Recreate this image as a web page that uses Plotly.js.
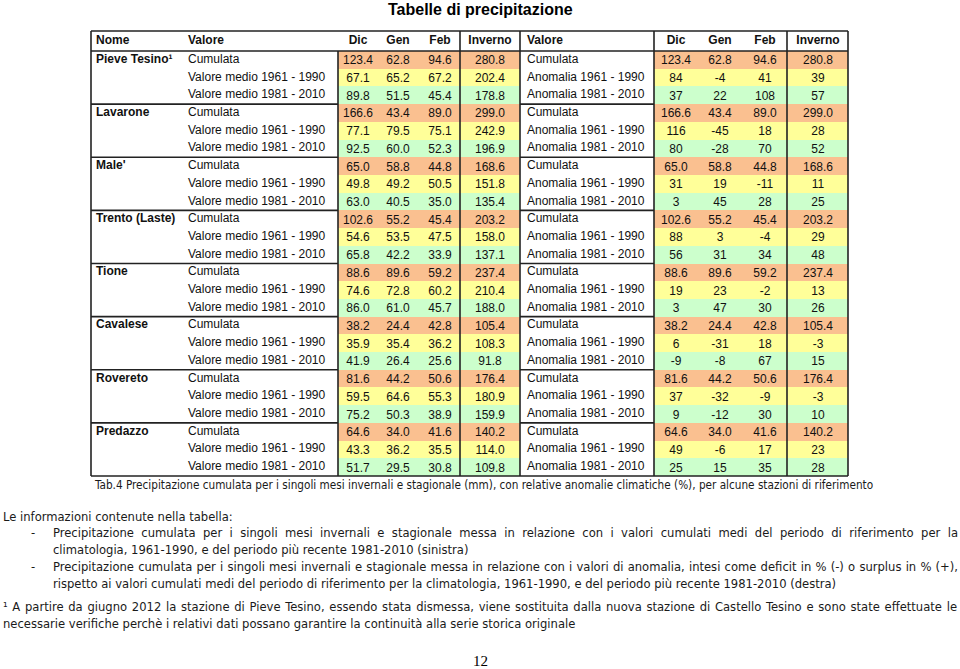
<!DOCTYPE html>
<html>
<head>
<meta charset="utf-8">
<script src="https://cdn.plot.ly/plotly-3.0.1.min.js"></script>
<style>body{margin:0;background:#fff}</style>
</head>
<body>
<div id="chart" style="width:960px;height:669px"></div>
<script>
// stations
var stations = ["Pieve Tesino\u00B9", "Lavarone", "Male'", "Trento (Laste)", "Tione", "Cavalese", "Rovereto", "Predazzo"];
var months = ["Dic", "Gen", "Feb", "Inverno"];
var labelsLeft = ["Cumulata", "Valore medio 1961 - 1990", "Valore medio 1981 - 2010"];
var labelsRight = ["Cumulata", "Anomalia 1961 - 1990", "Anomalia 1981 - 2010"];

// cumulated precipitation (mm)
var cumDic = [123.4, 166.6, 65.0, 102.6, 88.6, 38.2, 81.6, 64.6];
var cumGen = [62.8, 43.4, 58.8, 55.2, 89.6, 24.4, 44.2, 34.0];
var cumFeb = [94.6, 89.0, 44.8, 45.4, 59.2, 42.8, 50.6, 41.6];
var cumInv = [280.8, 299.0, 168.6, 203.2, 237.4, 105.4, 176.4, 140.2];

// mean 1961-1990 (mm)
var m6190Dic = [67.1, 77.1, 49.8, 54.6, 74.6, 35.9, 59.5, 43.3];
var m6190Gen = [65.2, 79.5, 49.2, 53.5, 72.8, 35.4, 64.6, 36.2];
var m6190Feb = [67.2, 75.1, 50.5, 47.5, 60.2, 36.2, 55.3, 35.5];
var m6190Inv = [202.4, 242.9, 151.8, 158.0, 210.4, 108.3, 180.9, 114.0];

// mean 1981-2010 (mm)
var m8110Dic = [89.8, 92.5, 63.0, 65.8, 86.0, 41.9, 75.2, 51.7];
var m8110Gen = [51.5, 60.0, 40.5, 42.2, 61.0, 26.4, 50.3, 29.5];
var m8110Feb = [45.4, 52.3, 35.0, 33.9, 45.7, 25.6, 38.9, 30.8];
var m8110Inv = [178.8, 196.9, 135.4, 137.1, 188.0, 91.8, 159.9, 109.8];

// anomalies (%)
var a6190Dic = [84, 116, 31, 88, 19, 6, 37, 49];
var a6190Gen = [-4, -45, 19, 3, 23, -31, -32, -6];
var a6190Feb = [41, 18, -11, -4, -2, 18, -9, 17];
var a6190Inv = [39, 28, 11, 29, 13, -3, -3, 23];
var a8110Dic = [37, 80, 3, 56, 3, -9, 9, 25];
var a8110Gen = [22, -28, 45, 31, 47, -8, -12, 15];
var a8110Feb = [108, 70, 28, 34, 30, 67, 30, 35];
var a8110Inv = [57, 52, 25, 48, 26, 15, 10, 28];

var rowColors = ["#FAC090", "#FFFF99", "#CCFFCC"];

var captionText = "Tab.4 Precipitazione cumulata per i singoli mesi invernali e stagionale (mm), con relative anomalie climatiche (%), per alcune stazioni di riferimento";
var bodyLines = [
  "Precipitazione cumulata per i singoli mesi invernali e stagionale messa in relazione con i valori cumulati medi del periodo di riferimento per la",
  "climatologia, 1961-1990, e del periodo più recente 1981-2010 (sinistra)",
  "Precipitazione cumulata per i singoli mesi invernali e stagionale messa in relazione con i valori di anomalia, intesi come deficit in % (-) o surplus in % (+),",
  "rispetto ai valori cumulati medi del periodo di riferimento per la climatologia, 1961-1990, e del periodo più recente 1981-2010 (destra)"
];
var footLines = [
  "\u00B9 A partire da giugno 2012 la stazione di Pieve Tesino, essendo stata dismessa, viene sostituita dalla nuova stazione di Castello Tesino e sono state effettuate le",
  "necessarie verifiche perchè i relativi dati possano garantire la continuità alla serie storica originale"
];

// geometry (page pixels)
var tblL = 91, tblR = 848, tblT = 31, hdrB = 51, tblB = 476;
var nRows = stations.length * 3;
var rowH = (tblB - hdrB) / nRows;
var leftCols = [358, 398, 440, 490];
var rightCols = [676, 720, 765, 818];
var leftEdges = [338, 378, 419, 460, 520];
var rightEdges = [654, 698, 742, 787, tblR];
var nomeX = 96, valX = 188, val2X = 527;

function rowY(i) { return hdrB + rowH * (i + 0.5); }
function f1(v) { return v.toFixed(1); }

var leftRows = [], rightRows = [], levels = [], yEdges = [hdrB];
stations.forEach(function(s, k) {
  var cum = [cumDic[k], cumGen[k], cumFeb[k], cumInv[k]].map(f1);
  leftRows.push(cum);
  leftRows.push([m6190Dic[k], m6190Gen[k], m6190Feb[k], m6190Inv[k]].map(f1));
  leftRows.push([m8110Dic[k], m8110Gen[k], m8110Feb[k], m8110Inv[k]].map(f1));
  rightRows.push(cum);
  rightRows.push([a6190Dic[k], a6190Gen[k], a6190Feb[k], a6190Inv[k]].map(String));
  rightRows.push([a8110Dic[k], a8110Gen[k], a8110Feb[k], a8110Inv[k]].map(String));
});
for (var i = 0; i < nRows; i++) {
  levels.push([0, 1, 2, 3].map(function() { return i % 3; }));
  yEdges.push(hdrB + rowH * (i + 1));
}

var font = "Liberation Sans, Arial, sans-serif";

// the notes below the table use a narrow face: pick one that is installed
// and size it so a reference line gets its width
var ctx = document.createElement("canvas").getContext("2d");
function textW(fam, size, s) { ctx.font = size + "px " + fam; return ctx.measureText(s).width; }
function hasFont(name) {
  var s = "abcdefghijklmnopqrstuvwxyz0123456789";
  return textW("monospace", 20, s) !== textW('"' + name + '", monospace', 20, s);
}
var narrowFam = hasFont("Liberation Sans Narrow") ? "Liberation Sans Narrow" :
  (hasFont("DejaVu Sans Condensed") ? "DejaVu Sans Condensed" : "Liberation Sans");
var narrowQ = '"' + narrowFam + '"';
var bodySize = 20 * 416 / textW(narrowQ, 20, bodyLines[1]);
var capSize = 20 * 779 / textW(narrowQ, 20, captionText);
var notesFam = narrowFam + ", Liberation Sans, sans-serif";

var cs = [[0, rowColors[0]], [0.333, rowColors[0]], [0.334, rowColors[1]], [0.666, rowColors[1]], [0.667, rowColors[2]], [1, rowColors[2]]];

function cellBg(edges) {
  return {type: "heatmap", x: edges, y: yEdges, z: levels, zmin: 0, zmax: 2,
    colorscale: cs, showscale: false, hoverinfo: "skip"};
}

function dataText(rows, cols) {
  var x = [], y = [], t = [];
  rows.forEach(function(r, i) {
    r.forEach(function(v, c) { x.push(cols[c]); y.push(rowY(i) + 1.5); t.push(v); });
  });
  return {type: "scatter", mode: "text", x: x, y: y, text: t, textposition: "middle center",
    textfont: {family: font, size: 12, color: "#111"}, hoverinfo: "skip"};
}

function labelText(xPos, labels) {
  var x = [], y = [], t = [];
  for (var i = 0; i < nRows; i++) { x.push(xPos); y.push(rowY(i)); t.push(labels[i % 3]); }
  return {type: "scatter", mode: "text", x: x, y: y, text: t, textposition: "middle right",
    textfont: {family: font, size: 12, color: "#111"}, hoverinfo: "skip"};
}

var hdrX = [nomeX, valX].concat(leftCols, [val2X], rightCols);
var hdrT = ["Nome", "Valore"].concat(months, ["Valore"], months).map(function(s) { return "<b>" + s + "</b>"; });
var hdrP = hdrX.map(function(x) { return (x === nomeX || x === valX || x === val2X) ? "middle right" : "middle center"; });

var data = [
  cellBg(leftEdges),
  cellBg(rightEdges),
  dataText(leftRows, leftCols),
  dataText(rightRows, rightCols),
  labelText(valX, labelsLeft),
  labelText(val2X, labelsRight),
  {type: "scatter", mode: "text", x: hdrX, y: hdrX.map(function() { return (tblT + hdrB) / 2; }),
    text: hdrT, textposition: hdrP, textfont: {family: font, size: 12, color: "#111"}, hoverinfo: "skip"},
  {type: "scatter", mode: "text", x: stations.map(function() { return nomeX; }),
    y: stations.map(function(s, k) { return rowY(3 * k); }),
    text: stations.map(function(s) { return "<b>" + s + "</b>"; }), textposition: "middle right",
    textfont: {family: font, size: 12, color: "#111"}, hoverinfo: "skip"}
];

// table rules
var shapes = [];
function hline(y, x0, x1) { shapes.push({type: "line", x0: x0, x1: x1, y0: y, y1: y, line: {color: "#222", width: 1.6}}); }
function vline(x, y0, y1) { shapes.push({type: "line", x0: x, x1: x, y0: y0, y1: y1, line: {color: "#222", width: 1.6}}); }
hline(tblT, tblL, tblR);
hline(hdrB, tblL, tblR);
hline(tblB, tblL, tblR);
for (var k = 1; k < stations.length; k++) {
  var yy = hdrB + 3 * k * rowH;
  hline(yy, tblL, leftEdges[0]);
  hline(yy, leftEdges[4], rightEdges[0]);
}
vline(tblL, tblT, tblB);
vline(leftEdges[0], hdrB, tblB);
vline(leftEdges[3], tblT, tblB);
vline(leftEdges[4], tblT, tblB);
vline(rightEdges[0], tblT, tblB);
vline(rightEdges[3], tblT, tblB);
vline(tblR, tblT, tblB);

function note(text, x, y, anchor, size) {
  return {text: text, x: x, y: y, xref: "x", yref: "y", xanchor: anchor, yanchor: "middle",
    align: "left", showarrow: false, font: {family: notesFam, size: size || bodySize, color: "#1a1a1a"}};
}

var annotations = [
  {text: "<b>Tabelle di precipitazione</b>", x: 480, y: 9, xref: "x", yref: "y", showarrow: false,
    font: {family: font, size: 16, color: "#000"}},
  note(captionText, 483, 485, "center", capSize),
  note("Le informazioni contenute nella tabella:", 0.5, 516, "left"),
  note("-", 29, 532, "left"),
  note(bodyLines[0], 51, 532, "left"),
  note(bodyLines[1], 51, 549, "left"),
  note("-", 29, 566, "left"),
  note(bodyLines[2], 51, 566, "left"),
  note(bodyLines[3], 51, 583, "left"),
  note(footLines[0], 0.5, 606, "left"),
  note(footLines[1], 0.5, 623, "left"),
  {text: "12", x: 480, y: 661, xref: "x", yref: "y", showarrow: false,
    font: {family: "Liberation Serif, Times New Roman, serif", size: 15, color: "#000"}}
];
// justified lines: annotation index -> right edge
var justify = [{idx: 4, right: 958}, {idx: 7, right: 958}, {idx: 9, right: 957}];

var layout = {
  width: 960, height: 669,
  margin: {l: 0, r: 0, t: 0, b: 0},
  paper_bgcolor: "#fff", plot_bgcolor: "#fff",
  showlegend: false,
  xaxis: {range: [0, 960], visible: false, fixedrange: true},
  yaxis: {range: [669, 0], visible: false, fixedrange: true},
  shapes: shapes,
  annotations: annotations
};

Plotly.newPlot("chart", data, layout, {staticPlot: true}).then(function(gd) {
  justify.forEach(function(j) {
    var el = gd.querySelector('.annotation[data-index="' + j.idx + '"] .annotation-text') ||
      gd.querySelectorAll(".annotation-text")[j.idx];
    if (!el) return;
    var spaces = (el.textContent.match(/ /g) || []).length;
    var box = el.getBoundingClientRect();
    var extra = j.right - box.right;
    if (spaces > 0 && extra > 0) el.style.wordSpacing = (extra / spaces) + "px";
  });
});
</script>
</body>
</html>
